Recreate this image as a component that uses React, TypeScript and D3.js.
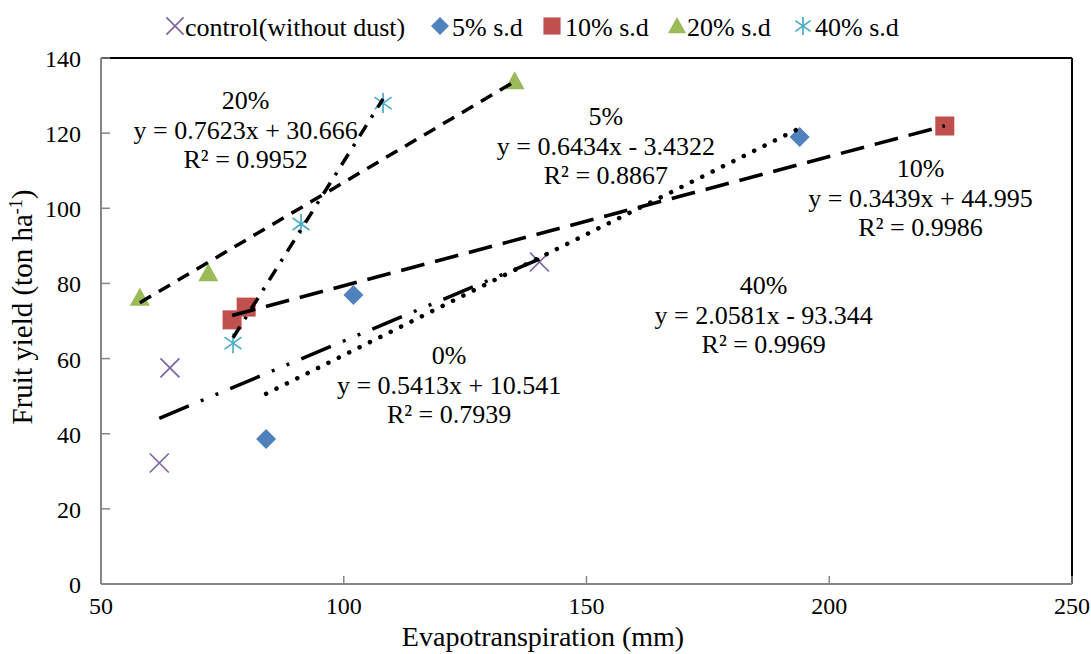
import React from "react";
import * as d3 from "d3";

const W = 1091, H = 654;
const xTicks = [50, 100, 150, 200, 250];
const yTicks = [0, 20, 40, 60, 80, 100, 120, 140];

const controlX = [62.0, 64.2, 140.3];
const controlY = [32.2, 57.5, 85.7];
const sd5X = [84.0, 102, 193.9];
const sd5Y = [38.6, 76.9, 119];
const sd10X = [77.0, 79.9, 223.8];
const sd10Y = [70.3, 73.7, 121.9];
const sd20X = [58.0, 72.1, 135.2];
const sd20Y = [76.2, 82.7, 133.8];
const sd40X = [77.2, 91.2, 108.1];
const sd40Y = [64.1, 95.8, 128];

const seriesNames = ["control(without dust)", "5% s.d", "10% s.d", "20% s.d", "40% s.d"];
const slopes = [0.5413, 0.6434, 0.3439, 0.7623, 2.0581];
const intercepts = [10.541, -3.4322, 44.995, 30.666, -93.344];
const eqLabels = ["y = 0.5413x + 10.541", "y = 0.6434x - 3.4322", "y = 0.3439x + 44.995", "y = 0.7623x + 30.666", "y = 2.0581x - 93.344"];
const r2Labels = ["R² = 0.7939", "R² = 0.8867", "R² = 0.9986", "R² = 0.9952", "R² = 0.9969"];
const pctLabels = ["0%", "5%", "10%", "20%", "40%"];

const colors = ["#8064A2", "#4F81BD", "#C0504D", "#9BBB59", "#4BACC6"];
const dashes = ["32 13 3 13 3 13", "0.1 11.5", "24 11", "13 9", "13 9 3 9"];
const widths = [3.5, 4.5, 3.5, 3.5, 3.5];
const caps = ["butt", "round", "butt", "butt", "butt"];
// label anchor (first-line baseline) in data coords
const labelPos: [number, number][] = [
  [121.7, 58.6],
  [154.0, 122.2],
  [218.8, 108.3],
  [79.8, 126.4],
  [186.5, 77.2],
];

const xs = [controlX, sd5X, sd10X, sd20X, sd40X];
const ys = [controlY, sd5Y, sd10Y, sd20Y, sd40Y];

const FONT = "Liberation Serif, Times New Roman, DejaVu Serif, serif";

function Marker({ i, cx, cy, k = 1 }: { i: number; cx: number; cy: number; k?: number }) {
  const c = colors[i];
  if (i === 0) {
    const s = 9.5 * k;
    return (
      <g stroke={c} strokeWidth={1.7}>
        <line x1={cx - s} y1={cy - s} x2={cx + s} y2={cy + s} />
        <line x1={cx - s} y1={cy + s} x2={cx + s} y2={cy - s} />
      </g>
    );
  }
  if (i === 1) {
    const s = 10 * k;
    return <path d={`M${cx},${cy - s}L${cx + s},${cy}L${cx},${cy + s}L${cx - s},${cy}Z`} fill={c} />;
  }
  if (i === 2) {
    const s = 9.5 * k;
    return <rect x={cx - s} y={cy - s} width={2 * s} height={2 * s} fill={c} />;
  }
  if (i === 3) {
    const s = 10 * k;
    return <path d={`M${cx},${cy - s}L${cx + s},${cy + s * 0.8}L${cx - s},${cy + s * 0.8}Z`} fill={c} />;
  }
  const s = 10 * k;
  return (
    <g stroke={c} strokeWidth={1.7}>
      <line x1={cx - s * 0.85} y1={cy - s * 0.6} x2={cx + s * 0.85} y2={cy + s * 0.6} />
      <line x1={cx - s * 0.85} y1={cy + s * 0.6} x2={cx + s * 0.85} y2={cy - s * 0.6} />
      <line x1={cx} y1={cy - s} x2={cx} y2={cy + s} />
    </g>
  );
}

export default function App() {
  const x = d3.scaleLinear().domain([50, 250]).range([101, 1072]);
  const y = d3.scaleLinear().domain([0, 140]).range([584, 58]);
  const line = d3.line<[number, number]>().x((d) => x(d[0])).y((d) => y(d[1]));

  const legendMarkX = [175, 440, 552, 677, 803];
  const legendTextX = [185, 452, 565, 687, 815];

  return (
    <svg width={W} height={H} style={{ position: "absolute", left: 0, top: 0, background: "#fff", fontFamily: FONT }}>
      <line x1={x(50)} y1={y(140)} x2={x(250)} y2={y(140)} stroke="#000" strokeWidth={2} />
      <line x1={x(250)} y1={y(140)} x2={x(250)} y2={y(0)} stroke="#000" strokeWidth={2} />
      <line x1={x(50)} y1={y(0)} x2={x(250)} y2={y(0)} stroke="#868686" strokeWidth={2} />
      <line x1={x(50)} y1={y(140)} x2={x(50)} y2={y(0)} stroke="#868686" strokeWidth={2} />
      {yTicks.map((t) => (
        <g key={"y" + t}>
          <line x1={x(50)} x2={x(50) + 9} y1={y(t)} y2={y(t)} stroke="#868686" strokeWidth={1.5} />
          <text x={81} y={y(t) + 9} textAnchor="end" fontSize={24}>{t}</text>
        </g>
      ))}
      {xTicks.map((t) => (
        <g key={"x" + t}>
          <line x1={x(t)} x2={x(t)} y1={y(0)} y2={y(0) - 8} stroke="#868686" strokeWidth={1.5} />
          <text x={x(t)} y={614} textAnchor="middle" fontSize={24}>{t}</text>
        </g>
      ))}
      <text x={543} y={646} textAnchor="middle" fontSize={28}>Evapotranspiration (mm)</text>
      <text transform="translate(32,307) rotate(-90)" textAnchor="middle" fontSize={29}>
        Fruit yield (ton ha<tspan dy={-10} fontSize={18}>-1</tspan><tspan dy={10}>)</tspan>
      </text>

      {xs.map((arr, i) =>
        arr.map((v, j) => <Marker key={i + "-" + j} i={i} cx={x(v)} cy={y(ys[i][j])} />)
      )}

      {xs.map((arr, i) => {
        const lo = d3.min(arr)!, hi = d3.max(arr)!;
        const pts: [number, number][] = [
          [lo, slopes[i] * lo + intercepts[i]],
          [hi, slopes[i] * hi + intercepts[i]],
        ];
        return (
          <path key={"t" + i} d={line(pts)!} fill="none" stroke="#000" strokeWidth={widths[i]}
            strokeDasharray={dashes[i]} strokeLinecap={caps[i] as any} />
        );
      })}

      {labelPos.map((p, i) => (
        <text key={"l" + i} x={x(p[0])} y={y(p[1])} textAnchor="middle" fontSize={26}>
          <tspan x={x(p[0])} dy={0}>{pctLabels[i]}</tspan>
          <tspan x={x(p[0])} dy={30}>{eqLabels[i]}</tspan>
          <tspan x={x(p[0])} dy={29}>{r2Labels[i]}</tspan>
        </text>
      ))}

      {seriesNames.map((n, i) => (
        <g key={"lg" + i}>
          <Marker i={i} cx={legendMarkX[i]} cy={26} k={0.9} />
          <text x={legendTextX[i]} y={36} fontSize={26}>{n}</text>
        </g>
      ))}
    </svg>
  );
}
